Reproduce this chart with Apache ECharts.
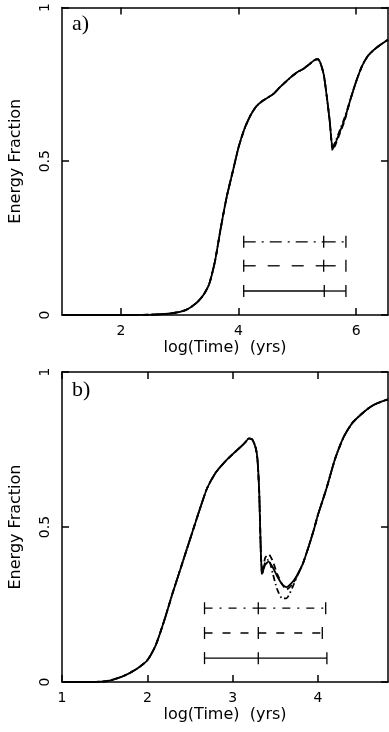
<!DOCTYPE html>
<html>
<head>
<meta charset="utf-8">
<script src="https://cdn.jsdelivr.net/npm/echarts@6/dist/echarts.min.js"></script>
<style>
html,body{margin:0;padding:0;background:#fff;}
#c{width:389px;height:732px;}
</style>
</head>
<body>
<div id="c"></div>
<script>
// ---------- Panel a) ----------
const aX = [1.0,1.5,2.0,2.5,2.8,3.0,3.1,3.2,3.3,3.4,3.5,3.6,3.7,3.8,3.9,4.0,4.1,4.2,4.3,4.4,4.5,4.6,4.7,4.8,4.9,5.0,5.1,5.2,5.3,5.35,5.4,5.45,5.5,5.55,5.6,5.65,5.7,5.8,5.9,6.0,6.1,6.2,6.3,6.4,6.54];
const aSolid = [0,0,0,0.001,0.004,0.01,0.016,0.027,0.042,0.064,0.10,0.175,0.285,0.385,0.465,0.545,0.605,0.648,0.678,0.695,0.707,0.72,0.74,0.758,0.775,0.79,0.80,0.815,0.83,0.832,0.815,0.78,0.71,0.63,0.54,0.56,0.585,0.635,0.70,0.76,0.81,0.843,0.862,0.877,0.895];
const aDashed = [0,0,0,0.001,0.004,0.01,0.016,0.027,0.042,0.064,0.10,0.175,0.285,0.385,0.465,0.545,0.605,0.648,0.678,0.695,0.707,0.72,0.74,0.758,0.775,0.79,0.80,0.815,0.83,0.832,0.815,0.78,0.71,0.63,0.535,0.555,0.58,0.63,0.70,0.76,0.81,0.843,0.862,0.877,0.895];
const aDashDot = [0,0,0,0.001,0.004,0.01,0.016,0.027,0.042,0.064,0.10,0.175,0.285,0.385,0.465,0.545,0.605,0.648,0.678,0.695,0.707,0.72,0.74,0.758,0.775,0.79,0.80,0.815,0.83,0.832,0.815,0.78,0.71,0.63,0.545,0.565,0.59,0.64,0.70,0.76,0.81,0.843,0.862,0.877,0.895];
// error bars (solid, dashed, dash-dot)
const aBarLeft = [4.088, 4.088, 4.088];
const aBarMid = [5.457, 5.447, 5.447];
const aBarRight = [5.825, 5.825, 5.825];
const aBarY = [0.078, 0.16, 0.238];
const aXTicks = [2, 4, 6];

// ---------- Panel b) ----------
const bX = [1.0,1.3,1.5,1.6,1.7,1.8,1.9,2.0,2.1,2.2,2.3,2.4,2.5,2.6,2.7,2.8,2.9,3.0,3.1,3.15,3.19,3.23,3.27,3.29,3.31,3.32,3.33,3.345,3.38,3.42,3.47,3.52,3.58,3.63,3.7,3.75,3.82,3.88,3.95,4.0,4.1,4.2,4.3,4.4,4.5,4.6,4.7,4.82];
const bSolid = [0,0,0.002,0.008,0.017,0.03,0.047,0.07,0.12,0.2,0.29,0.375,0.46,0.545,0.625,0.675,0.708,0.735,0.76,0.774,0.786,0.782,0.755,0.72,0.62,0.52,0.42,0.35,0.378,0.388,0.37,0.342,0.315,0.306,0.322,0.342,0.38,0.428,0.49,0.54,0.625,0.72,0.79,0.835,0.862,0.885,0.90,0.912];
const bDashed = [0,0,0.002,0.008,0.017,0.03,0.047,0.07,0.12,0.2,0.29,0.375,0.46,0.545,0.625,0.675,0.708,0.735,0.76,0.774,0.786,0.782,0.755,0.72,0.62,0.52,0.42,0.35,0.40,0.413,0.39,0.35,0.315,0.298,0.315,0.34,0.38,0.428,0.49,0.54,0.625,0.72,0.79,0.835,0.862,0.885,0.90,0.912];
const bDashDot = [0,0,0.002,0.008,0.017,0.03,0.047,0.07,0.12,0.2,0.29,0.375,0.46,0.545,0.625,0.675,0.708,0.735,0.76,0.774,0.786,0.782,0.755,0.72,0.62,0.52,0.42,0.345,0.385,0.395,0.35,0.30,0.27,0.27,0.305,0.338,0.38,0.428,0.49,0.54,0.625,0.72,0.79,0.835,0.862,0.885,0.90,0.912];
const bBarLeft = [2.67, 2.67, 2.67];
const bBarMid = [3.30, 3.30, 3.30];
const bBarRight = [4.104, 4.05, 4.09];
const bBarY = [0.077, 0.158, 0.238];
const bXTicks = [1, 2, 3, 4];

const yTicks = [0, 0.5, 1];
const yTickLabels = ['0', '0.5', '1'];
const xTitle = 'log(Time)  (yrs)';
const yTitle = 'Energy Fraction';

// ---------- build ----------
const zip = (xs, ys) => xs.map((x, i) => [x, ys[i]]);
const FONT = 'DejaVu Sans';

function xAxes(gridIndex, min, max, ticks) {
  const common = {
    type: 'value', gridIndex, min, max,
    splitLine: { show: false },
    axisLine: { show: true, onZero: false, lineStyle: { color: '#000', width: 1.5 } },
    axisTick: { show: true, inside: true, length: 7, customValues: ticks, lineStyle: { color: '#000', width: 1.5 } }
  };
  return [
    Object.assign({}, common, {
      position: 'bottom',
      axisLabel: { show: true, customValues: ticks, margin: 9, color: '#000', fontFamily: FONT, fontSize: 14,
        formatter: v => String(v) },
      name: xTitle, nameLocation: 'middle', nameGap: 25,
      nameTextStyle: { color: '#000', fontFamily: FONT, fontSize: 16 }
    }),
    Object.assign({}, common, { position: 'top', axisLabel: { show: false } })
  ];
}
function yAxes(gridIndex) {
  const common = {
    type: 'value', gridIndex, min: 0, max: 1,
    splitLine: { show: false },
    axisLine: { show: true, onZero: false, lineStyle: { color: '#000', width: 1.5 } },
    axisTick: { show: true, inside: true, length: 7, customValues: yTicks, lineStyle: { color: '#000', width: 1.5 } }
  };
  return [
    Object.assign({}, common, {
      position: 'left',
      axisLabel: { show: true, customValues: yTicks, rotate: 90, margin: 10, color: '#000', fontFamily: FONT, fontSize: 14,
        formatter: v => yTickLabels[yTicks.indexOf(v)] },
      name: yTitle, nameLocation: 'middle', nameGap: 38, nameRotate: 90,
      nameTextStyle: { color: '#000', fontFamily: FONT, fontSize: 16 }
    }),
    Object.assign({}, common, { position: 'right', axisLabel: { show: false } })
  ];
}

const curveDash = { solid: 'solid', dashed: [6, 4], dashdot: [6, 3, 1.5, 3] };
function curve(xIdx, yIdx, xs, ys, dash, z) {
  return {
    type: 'line', xAxisIndex: xIdx, yAxisIndex: yIdx, data: zip(xs, ys),
    showSymbol: false, symbol: 'none', smooth: 0.2, z,
    lineStyle: { color: '#000', width: 1.8, type: dash },
    animation: false
  };
}

function bars(xIdx, yIdx, lefts, mids, rights, ys, dashes) {
  return {
    type: 'custom', xAxisIndex: xIdx, yAxisIndex: yIdx,
    data: lefts.map((l, i) => [l, mids[i], rights[i], ys[i], i]),
    animation: false,
    renderItem: (params, api) => {
      const y = api.value(3);
      const p0 = api.coord([api.value(0), y]);
      const p1 = api.coord([api.value(1), y]);
      const p2 = api.coord([api.value(2), y]);
      const dash = dashes[api.value(4)];
      const st = { stroke: '#000', lineWidth: 1.3, fill: null };
      const dst = Object.assign({}, st, { lineDash: dash });
      const cap = 6;
      const mk = (p, q, s) => ({ type: 'line', shape: { x1: p[0], y1: p[1], x2: q[0], y2: q[1] }, style: s });
      return {
        type: 'group',
        children: [
          mk(p0, p1, dst), mk(p1, p2, dst),
          mk([p0[0], p0[1] - cap], [p0[0], p0[1] + cap], st),
          mk([p1[0], p1[1] - cap], [p1[0], p1[1] + cap], st),
          mk([p2[0], p2[1] - cap], [p2[0], p2[1] + cap], st)
        ]
      };
    }
  };
}

const option = {
  backgroundColor: '#fff',
  animation: false,
  grid: [
    { left: 57, right: 1, top: 3, height: 312 },
    { left: 57, right: 1, top: 372, height: 310 }
  ],
  xAxis: [].concat(xAxes(0, 1, 6.54, aXTicks), xAxes(1, 1, 4.82, bXTicks)),
  yAxis: [].concat(yAxes(0), yAxes(1)),
  series: [
    curve(0, 0, aX, aDashDot, curveDash.dashdot, 2),
    curve(0, 0, aX, aDashed, curveDash.dashed, 3),
    curve(0, 0, aX, aSolid, curveDash.solid, 4),
    bars(0, 0, aBarLeft, aBarMid, aBarRight, aBarY, [null, [12, 12], [12, 6, 2, 6]]),
    curve(2, 2, bX, bDashDot, curveDash.dashdot, 2),
    curve(2, 2, bX, bDashed, curveDash.dashed, 3),
    curve(2, 2, bX, bSolid, curveDash.solid, 4),
    bars(2, 2, bBarLeft, bBarMid, bBarRight, bBarY, [null, [8, 10], [8, 7, 2, 7]])
  ],
  graphic: [
    { type: 'text', x: 72, y: 24, style: { text: 'a)', font: '22px "Liberation Serif"', fill: '#000', verticalAlign: 'middle' } },
    { type: 'text', x: 72, y: 390, style: { text: 'b)', font: '22px "Liberation Serif"', fill: '#000', verticalAlign: 'middle' } }
  ]
};

const chart = echarts.init(document.getElementById('c'), null, { renderer: 'canvas' });
chart.setOption(option);
</script>
</body>
</html>
